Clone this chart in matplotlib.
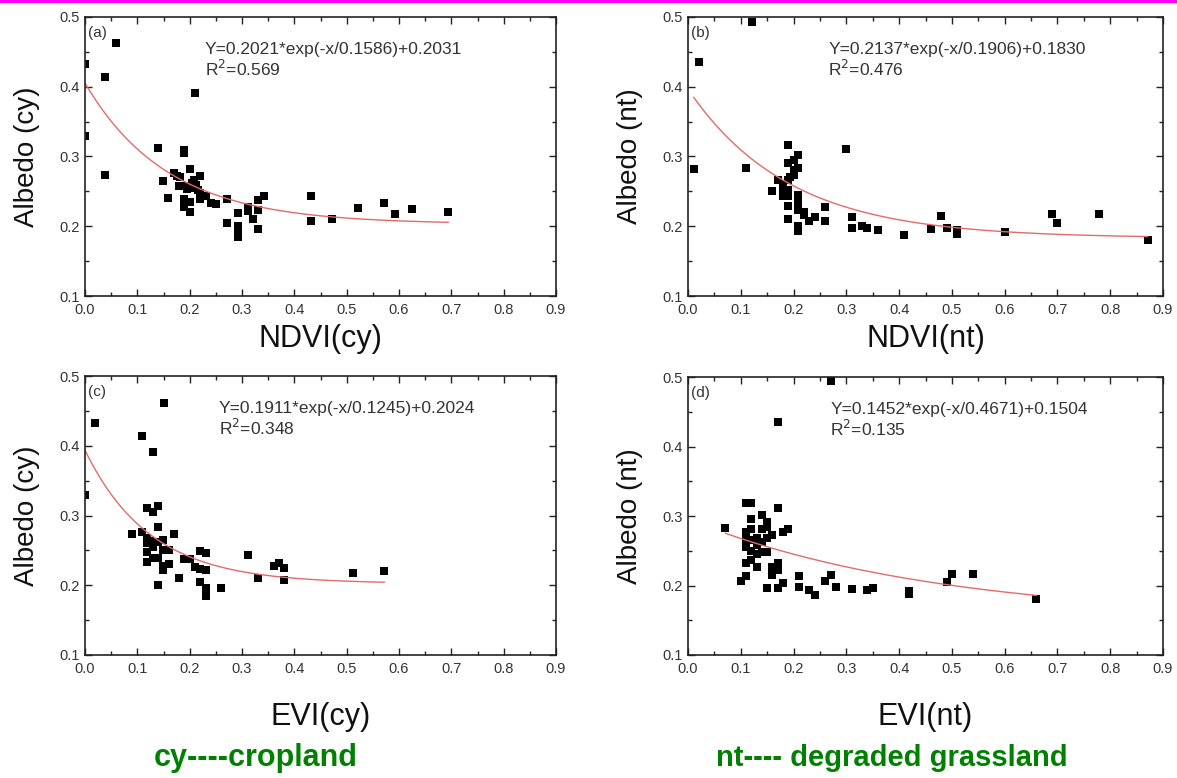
import numpy as np
import matplotlib.pyplot as plt
from matplotlib.ticker import MultipleLocator, FormatStrFormatter
from matplotlib.patches import Rectangle

plt.rcParams['font.family'] = ['Liberation Sans', 'DejaVu Sans']

# (a) NDVI vs albedo, cropland
ndvi_cy = [0.0, 0.0, 0.038, 0.038, 0.059, 0.139, 0.149, 0.159, 0.170, 0.176,
           0.179, 0.181, 0.189, 0.189, 0.189, 0.189, 0.189, 0.195, 0.196, 0.200,
           0.200, 0.200, 0.200, 0.205, 0.208, 0.209, 0.211, 0.212, 0.215, 0.220,
           0.220, 0.220, 0.231, 0.240, 0.250, 0.271, 0.271, 0.292, 0.292, 0.292,
           0.292, 0.311, 0.311, 0.321, 0.331, 0.331, 0.331, 0.342, 0.431, 0.431,
           0.472, 0.522, 0.572, 0.593, 0.624, 0.694]
alb_ndvi_cy = [0.433, 0.330, 0.414, 0.274, 0.463, 0.312, 0.265, 0.240, 0.276, 0.272,
               0.258, 0.270, 0.309, 0.305, 0.257, 0.239, 0.227, 0.253, 0.257, 0.282,
               0.257, 0.235, 0.221, 0.262, 0.255, 0.267, 0.391, 0.259, 0.252, 0.272,
               0.248, 0.239, 0.244, 0.234, 0.232, 0.239, 0.204, 0.219, 0.200, 0.192,
               0.185, 0.227, 0.222, 0.210, 0.237, 0.224, 0.196, 0.244, 0.244, 0.208,
               0.210, 0.226, 0.233, 0.218, 0.225, 0.221]

# (b) NDVI vs albedo, degraded grassland
ndvi_nt = [0.011, 0.020, 0.109, 0.121, 0.159, 0.171, 0.180, 0.180, 0.180, 0.185,
           0.190, 0.190, 0.190, 0.190, 0.190, 0.190, 0.190, 0.194, 0.200, 0.200,
           0.200, 0.209, 0.209, 0.209, 0.209, 0.209, 0.209, 0.209, 0.219, 0.219,
           0.230, 0.240, 0.259, 0.259, 0.299, 0.311, 0.311, 0.330, 0.339, 0.360,
           0.410, 0.460, 0.480, 0.490, 0.510, 0.510, 0.600, 0.689, 0.699, 0.779,
           0.871]
alb_ndvi_nt = [0.282, 0.435, 0.284, 0.493, 0.250, 0.267, 0.254, 0.243, 0.260, 0.248,
               0.317, 0.291, 0.266, 0.252, 0.243, 0.229, 0.210, 0.271, 0.295, 0.274,
               0.280, 0.302, 0.283, 0.245, 0.233, 0.224, 0.200, 0.193, 0.221, 0.216,
               0.208, 0.213, 0.227, 0.207, 0.311, 0.213, 0.198, 0.200, 0.197, 0.194,
               0.187, 0.196, 0.215, 0.198, 0.195, 0.189, 0.192, 0.217, 0.205, 0.218,
               0.181]

# (c) EVI vs albedo, cropland
evi_cy = [0.000, 0.020, 0.090, 0.109, 0.109, 0.119, 0.119, 0.119, 0.119, 0.119,
          0.125, 0.130, 0.130, 0.130, 0.130, 0.139, 0.139, 0.139, 0.139, 0.139,
          0.149, 0.149, 0.149, 0.149, 0.151, 0.160, 0.160, 0.170, 0.179, 0.189,
          0.200, 0.210, 0.220, 0.220, 0.220, 0.231, 0.231, 0.231, 0.231, 0.260,
          0.311, 0.331, 0.361, 0.371, 0.381, 0.381, 0.512, 0.572]
alb_evi_cy = [0.329, 0.432, 0.273, 0.414, 0.276, 0.311, 0.268, 0.260, 0.248, 0.234,
              0.263, 0.391, 0.305, 0.255, 0.239, 0.313, 0.284, 0.262, 0.239, 0.200,
              0.265, 0.250, 0.227, 0.222, 0.462, 0.250, 0.231, 0.273, 0.210, 0.237,
              0.238, 0.226, 0.249, 0.223, 0.205, 0.246, 0.222, 0.196, 0.185, 0.196,
              0.243, 0.211, 0.227, 0.232, 0.225, 0.208, 0.218, 0.220]

# (d) EVI vs albedo, degraded grassland
evi_nt = [0.071, 0.100, 0.109, 0.109, 0.109, 0.109, 0.109, 0.109, 0.109, 0.120,
          0.120, 0.120, 0.120, 0.120, 0.120, 0.130, 0.130, 0.130, 0.130, 0.140,
          0.140, 0.140, 0.140, 0.150, 0.150, 0.150, 0.150, 0.150, 0.160, 0.160,
          0.160, 0.171, 0.171, 0.171, 0.171, 0.171, 0.180, 0.180, 0.190, 0.210,
          0.210, 0.230, 0.240, 0.260, 0.270, 0.270, 0.280, 0.310, 0.339, 0.350,
          0.419, 0.419, 0.490, 0.500, 0.540, 0.660]
alb_evi_nt = [0.283, 0.207, 0.318, 0.277, 0.270, 0.262, 0.255, 0.233, 0.213, 0.319,
              0.296, 0.281, 0.265, 0.250, 0.236, 0.268, 0.258, 0.245, 0.227, 0.302,
              0.281, 0.262, 0.248, 0.292, 0.284, 0.268, 0.248, 0.197, 0.272, 0.227,
              0.215, 0.435, 0.312, 0.232, 0.222, 0.196, 0.277, 0.204, 0.282, 0.214,
              0.198, 0.194, 0.187, 0.207, 0.494, 0.215, 0.198, 0.195, 0.193, 0.196,
              0.192, 0.188, 0.205, 0.217, 0.217, 0.181]

# fit parameters Y = A*exp(-x/t) + y0, plus R^2
fit_a = (0.2021, 0.1586, 0.2031, 0.569)
fit_b = (0.2137, 0.1906, 0.1830, 0.476)
fit_c = (0.1911, 0.1245, 0.2024, 0.348)
fit_d = (0.1452, 0.4671, 0.1504, 0.135)

panels = [
    ('(a)', ndvi_cy, alb_ndvi_cy, fit_a, 'NDVI(cy)', 'Albedo (cy)'),
    ('(b)', ndvi_nt, alb_ndvi_nt, fit_b, 'NDVI(nt)', 'Albedo (nt)'),
    ('(c)', evi_cy, alb_evi_cy, fit_c, 'EVI(cy)', 'Albedo (cy)'),
    ('(d)', evi_nt, alb_evi_nt, fit_d, 'EVI(nt)', 'Albedo (nt)'),
]
eq_x = [0.229, 0.266, 0.256, 0.27]  # where the equation text starts

# axes rectangles in pixels (left, top, right, bottom) of a 1177x778 canvas
W, H = 1177, 778
boxes = [(85, 17, 556, 296), (688, 17, 1163, 296),
         (85, 376, 556, 655), (688, 377, 1163, 655)]

fig = plt.figure(figsize=(W / 100, H / 100), dpi=100)

# magenta rule along the top
fig.add_artist(Rectangle((0, 1 - 3 / H), 1, 3 / H, transform=fig.transFigure,
                         color='#ff00ff', lw=0))

txt_col = '#333333'
for i, (tag, x, y, fit, xl, yl) in enumerate(panels):
    l, t, r, b = boxes[i]
    ax = fig.add_axes([l / W, 1 - b / H, (r - l) / W, (b - t) / H])
    ax.plot(x, y, 's', color='black', markersize=5.2, markeredgewidth=0)
    A, tau, y0, r2 = fit
    xx = np.linspace(min(x), max(x), 200)
    ax.plot(xx, A * np.exp(-xx / tau) + y0, color='#e46a6a', lw=1.0)

    ax.set_xlim(0, 0.9)
    ax.set_ylim(0.1, 0.5)
    ax.xaxis.set_major_locator(MultipleLocator(0.1))
    ax.xaxis.set_minor_locator(MultipleLocator(0.05))
    ax.yaxis.set_major_locator(MultipleLocator(0.1))
    ax.yaxis.set_minor_locator(MultipleLocator(0.05))
    ax.xaxis.set_major_formatter(FormatStrFormatter('%.1f'))
    ax.yaxis.set_major_formatter(FormatStrFormatter('%.1f'))
    ax.tick_params(which='both', direction='in', top=True, right=True,
                   labelsize=10.5, labelcolor=txt_col, color='#222222')
    ax.tick_params(which='major', length=5, width=1)
    ax.tick_params(which='minor', length=3, width=1)
    ax.tick_params(axis='x', pad=5)
    for s in ax.spines.values():
        s.set_linewidth(1.2)
        s.set_color('#222222')

    ax.text(0.006, 0.477, tag, fontsize=11, color=txt_col, va='center')
    ax.text(eq_x[i], 0.453, 'Y=%.4f*exp(-x/%.4f)+%.4f' % (A, tau, y0),
            fontsize=12.5, color=txt_col, va='center')
    ax.text(eq_x[i], 0.425, r'R$^2$=%.3f' % r2, fontsize=12.5, color=txt_col,
            va='center')

    ax.set_xlabel(xl, fontsize=22, color='#111111')
    ax.set_ylabel(yl, fontsize=20, color='#111111')
    ly = -0.1 if i < 2 else -0.17
    ax.xaxis.set_label_coords(0.5, ly)
    ax.yaxis.set_label_coords(-0.095, 0.5)

fig.text(256 / W, 1 - 758 / H, 'cy----cropland', fontsize=22, fontweight='bold',
         color='#008000', ha='center', va='center')
fig.text(892 / W, 1 - 758 / H, 'nt---- degraded grassland', fontsize=21,
         fontweight='bold', color='#008000', ha='center', va='center')

fig.savefig('out.png', dpi=100)
